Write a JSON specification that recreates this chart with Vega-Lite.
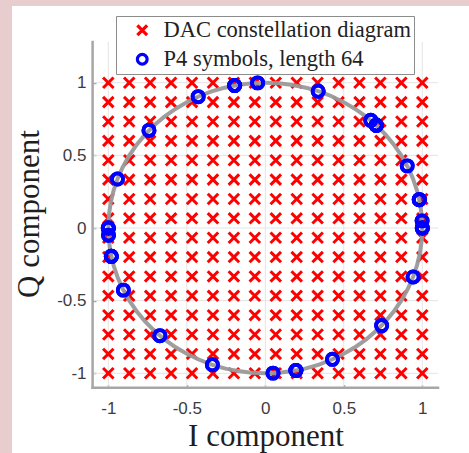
{
  "$schema": "https://vega.github.io/schema/vega-lite/v6.json",
  "width": 457,
  "height": 447,
  "autosize": {"type": "none"},
  "padding": {"left": 12, "top": 6, "right": 0, "bottom": 0},
  "background": "#e8cdcf",
  "config": {
    "view": {"fill": "white", "stroke": null}
  },
  "datasets": {
    "gl": [
      {"i": -1.1, "i2": 1.1, "q": -1, "q2": -1},
      {"i": -1.1, "i2": 1.1, "q": -0.5, "q2": -0.5},
      {"i": -1.1, "i2": 1.1, "q": 0, "q2": 0},
      {"i": -1.1, "i2": 1.1, "q": 0.5, "q2": 0.5},
      {"i": -1.1, "i2": 1.1, "q": 1, "q2": 1},
      {"i": -1, "i2": -1, "q": -1.1, "q2": 1.28},
      {"i": -0.5, "i2": -0.5, "q": -1.1, "q2": 1.28},
      {"i": 0, "i2": 0, "q": -1.1, "q2": 1.28},
      {"i": 0.5, "i2": 0.5, "q": -1.1, "q2": 1.28},
      {"i": 1, "i2": 1, "q": -1.1, "q2": 1.28}
    ],
    "ax": [
      {"i": -1.1, "i2": 1.1, "q": -1.1, "q2": -1.1},
      {"i": -1.1, "i2": -1.1, "q": -1.1, "q2": 1.28}
    ],
    "grid": [
      {"i":-1,"q":-1},{"i":-1,"q":-0.8667},{"i":-1,"q":-0.7333},{"i":-1,"q":-0.6},{"i":-1,"q":-0.4667},{"i":-1,"q":-0.3333},{"i":-1,"q":-0.2},{"i":-1,"q":-0.0667},{"i":-1,"q":0.0667},{"i":-1,"q":0.2},{"i":-1,"q":0.3333},{"i":-1,"q":0.4667},{"i":-1,"q":0.6},{"i":-1,"q":0.7333},{"i":-1,"q":0.8667},{"i":-1,"q":1},
      {"i":-0.8667,"q":-1},{"i":-0.8667,"q":-0.8667},{"i":-0.8667,"q":-0.7333},{"i":-0.8667,"q":-0.6},{"i":-0.8667,"q":-0.4667},{"i":-0.8667,"q":-0.3333},{"i":-0.8667,"q":-0.2},{"i":-0.8667,"q":-0.0667},{"i":-0.8667,"q":0.0667},{"i":-0.8667,"q":0.2},{"i":-0.8667,"q":0.3333},{"i":-0.8667,"q":0.4667},{"i":-0.8667,"q":0.6},{"i":-0.8667,"q":0.7333},{"i":-0.8667,"q":0.8667},{"i":-0.8667,"q":1},
      {"i":-0.7333,"q":-1},{"i":-0.7333,"q":-0.8667},{"i":-0.7333,"q":-0.7333},{"i":-0.7333,"q":-0.6},{"i":-0.7333,"q":-0.4667},{"i":-0.7333,"q":-0.3333},{"i":-0.7333,"q":-0.2},{"i":-0.7333,"q":-0.0667},{"i":-0.7333,"q":0.0667},{"i":-0.7333,"q":0.2},{"i":-0.7333,"q":0.3333},{"i":-0.7333,"q":0.4667},{"i":-0.7333,"q":0.6},{"i":-0.7333,"q":0.7333},{"i":-0.7333,"q":0.8667},{"i":-0.7333,"q":1},
      {"i":-0.6,"q":-1},{"i":-0.6,"q":-0.8667},{"i":-0.6,"q":-0.7333},{"i":-0.6,"q":-0.6},{"i":-0.6,"q":-0.4667},{"i":-0.6,"q":-0.3333},{"i":-0.6,"q":-0.2},{"i":-0.6,"q":-0.0667},{"i":-0.6,"q":0.0667},{"i":-0.6,"q":0.2},{"i":-0.6,"q":0.3333},{"i":-0.6,"q":0.4667},{"i":-0.6,"q":0.6},{"i":-0.6,"q":0.7333},{"i":-0.6,"q":0.8667},{"i":-0.6,"q":1},
      {"i":-0.4667,"q":-1},{"i":-0.4667,"q":-0.8667},{"i":-0.4667,"q":-0.7333},{"i":-0.4667,"q":-0.6},{"i":-0.4667,"q":-0.4667},{"i":-0.4667,"q":-0.3333},{"i":-0.4667,"q":-0.2},{"i":-0.4667,"q":-0.0667},{"i":-0.4667,"q":0.0667},{"i":-0.4667,"q":0.2},{"i":-0.4667,"q":0.3333},{"i":-0.4667,"q":0.4667},{"i":-0.4667,"q":0.6},{"i":-0.4667,"q":0.7333},{"i":-0.4667,"q":0.8667},{"i":-0.4667,"q":1},
      {"i":-0.3333,"q":-1},{"i":-0.3333,"q":-0.8667},{"i":-0.3333,"q":-0.7333},{"i":-0.3333,"q":-0.6},{"i":-0.3333,"q":-0.4667},{"i":-0.3333,"q":-0.3333},{"i":-0.3333,"q":-0.2},{"i":-0.3333,"q":-0.0667},{"i":-0.3333,"q":0.0667},{"i":-0.3333,"q":0.2},{"i":-0.3333,"q":0.3333},{"i":-0.3333,"q":0.4667},{"i":-0.3333,"q":0.6},{"i":-0.3333,"q":0.7333},{"i":-0.3333,"q":0.8667},{"i":-0.3333,"q":1},
      {"i":-0.2,"q":-1},{"i":-0.2,"q":-0.8667},{"i":-0.2,"q":-0.7333},{"i":-0.2,"q":-0.6},{"i":-0.2,"q":-0.4667},{"i":-0.2,"q":-0.3333},{"i":-0.2,"q":-0.2},{"i":-0.2,"q":-0.0667},{"i":-0.2,"q":0.0667},{"i":-0.2,"q":0.2},{"i":-0.2,"q":0.3333},{"i":-0.2,"q":0.4667},{"i":-0.2,"q":0.6},{"i":-0.2,"q":0.7333},{"i":-0.2,"q":0.8667},{"i":-0.2,"q":1},
      {"i":-0.0667,"q":-1},{"i":-0.0667,"q":-0.8667},{"i":-0.0667,"q":-0.7333},{"i":-0.0667,"q":-0.6},{"i":-0.0667,"q":-0.4667},{"i":-0.0667,"q":-0.3333},{"i":-0.0667,"q":-0.2},{"i":-0.0667,"q":-0.0667},{"i":-0.0667,"q":0.0667},{"i":-0.0667,"q":0.2},{"i":-0.0667,"q":0.3333},{"i":-0.0667,"q":0.4667},{"i":-0.0667,"q":0.6},{"i":-0.0667,"q":0.7333},{"i":-0.0667,"q":0.8667},{"i":-0.0667,"q":1},
      {"i":0.0667,"q":-1},{"i":0.0667,"q":-0.8667},{"i":0.0667,"q":-0.7333},{"i":0.0667,"q":-0.6},{"i":0.0667,"q":-0.4667},{"i":0.0667,"q":-0.3333},{"i":0.0667,"q":-0.2},{"i":0.0667,"q":-0.0667},{"i":0.0667,"q":0.0667},{"i":0.0667,"q":0.2},{"i":0.0667,"q":0.3333},{"i":0.0667,"q":0.4667},{"i":0.0667,"q":0.6},{"i":0.0667,"q":0.7333},{"i":0.0667,"q":0.8667},{"i":0.0667,"q":1},
      {"i":0.2,"q":-1},{"i":0.2,"q":-0.8667},{"i":0.2,"q":-0.7333},{"i":0.2,"q":-0.6},{"i":0.2,"q":-0.4667},{"i":0.2,"q":-0.3333},{"i":0.2,"q":-0.2},{"i":0.2,"q":-0.0667},{"i":0.2,"q":0.0667},{"i":0.2,"q":0.2},{"i":0.2,"q":0.3333},{"i":0.2,"q":0.4667},{"i":0.2,"q":0.6},{"i":0.2,"q":0.7333},{"i":0.2,"q":0.8667},{"i":0.2,"q":1},
      {"i":0.3333,"q":-1},{"i":0.3333,"q":-0.8667},{"i":0.3333,"q":-0.7333},{"i":0.3333,"q":-0.6},{"i":0.3333,"q":-0.4667},{"i":0.3333,"q":-0.3333},{"i":0.3333,"q":-0.2},{"i":0.3333,"q":-0.0667},{"i":0.3333,"q":0.0667},{"i":0.3333,"q":0.2},{"i":0.3333,"q":0.3333},{"i":0.3333,"q":0.4667},{"i":0.3333,"q":0.6},{"i":0.3333,"q":0.7333},{"i":0.3333,"q":0.8667},{"i":0.3333,"q":1},
      {"i":0.4667,"q":-1},{"i":0.4667,"q":-0.8667},{"i":0.4667,"q":-0.7333},{"i":0.4667,"q":-0.6},{"i":0.4667,"q":-0.4667},{"i":0.4667,"q":-0.3333},{"i":0.4667,"q":-0.2},{"i":0.4667,"q":-0.0667},{"i":0.4667,"q":0.0667},{"i":0.4667,"q":0.2},{"i":0.4667,"q":0.3333},{"i":0.4667,"q":0.4667},{"i":0.4667,"q":0.6},{"i":0.4667,"q":0.7333},{"i":0.4667,"q":0.8667},{"i":0.4667,"q":1},
      {"i":0.6,"q":-1},{"i":0.6,"q":-0.8667},{"i":0.6,"q":-0.7333},{"i":0.6,"q":-0.6},{"i":0.6,"q":-0.4667},{"i":0.6,"q":-0.3333},{"i":0.6,"q":-0.2},{"i":0.6,"q":-0.0667},{"i":0.6,"q":0.0667},{"i":0.6,"q":0.2},{"i":0.6,"q":0.3333},{"i":0.6,"q":0.4667},{"i":0.6,"q":0.6},{"i":0.6,"q":0.7333},{"i":0.6,"q":0.8667},{"i":0.6,"q":1},
      {"i":0.7333,"q":-1},{"i":0.7333,"q":-0.8667},{"i":0.7333,"q":-0.7333},{"i":0.7333,"q":-0.6},{"i":0.7333,"q":-0.4667},{"i":0.7333,"q":-0.3333},{"i":0.7333,"q":-0.2},{"i":0.7333,"q":-0.0667},{"i":0.7333,"q":0.0667},{"i":0.7333,"q":0.2},{"i":0.7333,"q":0.3333},{"i":0.7333,"q":0.4667},{"i":0.7333,"q":0.6},{"i":0.7333,"q":0.7333},{"i":0.7333,"q":0.8667},{"i":0.7333,"q":1},
      {"i":0.8667,"q":-1},{"i":0.8667,"q":-0.8667},{"i":0.8667,"q":-0.7333},{"i":0.8667,"q":-0.6},{"i":0.8667,"q":-0.4667},{"i":0.8667,"q":-0.3333},{"i":0.8667,"q":-0.2},{"i":0.8667,"q":-0.0667},{"i":0.8667,"q":0.0667},{"i":0.8667,"q":0.2},{"i":0.8667,"q":0.3333},{"i":0.8667,"q":0.4667},{"i":0.8667,"q":0.6},{"i":0.8667,"q":0.7333},{"i":0.8667,"q":0.8667},{"i":0.8667,"q":1},
      {"i":1,"q":-1},{"i":1,"q":-0.8667},{"i":1,"q":-0.7333},{"i":1,"q":-0.6},{"i":1,"q":-0.4667},{"i":1,"q":-0.3333},{"i":1,"q":-0.2},{"i":1,"q":-0.0667},{"i":1,"q":0.0667},{"i":1,"q":0.2},{"i":1,"q":0.3333},{"i":1,"q":0.4667},{"i":1,"q":0.6},{"i":1,"q":0.7333},{"i":1,"q":0.8667},{"i":1,"q":1}
    ],
    "circle": [
      {"a":0,"i":1,"q":0},{"a":10,"i":0.9848,"q":0.1736},{"a":20,"i":0.9397,"q":0.342},{"a":30,"i":0.866,"q":0.5},{"a":40,"i":0.766,"q":0.6428},{"a":50,"i":0.6428,"q":0.766},{"a":60,"i":0.5,"q":0.866},{"a":70,"i":0.342,"q":0.9397},{"a":80,"i":0.1736,"q":0.9848},{"a":90,"i":0,"q":1},
      {"a":100,"i":-0.1736,"q":0.9848},{"a":110,"i":-0.342,"q":0.9397},{"a":120,"i":-0.5,"q":0.866},{"a":130,"i":-0.6428,"q":0.766},{"a":140,"i":-0.766,"q":0.6428},{"a":150,"i":-0.866,"q":0.5},{"a":160,"i":-0.9397,"q":0.342},{"a":170,"i":-0.9848,"q":0.1736},{"a":180,"i":-1,"q":0},
      {"a":190,"i":-0.9848,"q":-0.1736},{"a":200,"i":-0.9397,"q":-0.342},{"a":210,"i":-0.866,"q":-0.5},{"a":220,"i":-0.766,"q":-0.6428},{"a":230,"i":-0.6428,"q":-0.766},{"a":240,"i":-0.5,"q":-0.866},{"a":250,"i":-0.342,"q":-0.9397},{"a":260,"i":-0.1736,"q":-0.9848},{"a":270,"i":0,"q":-1},
      {"a":280,"i":0.1736,"q":-0.9848},{"a":290,"i":0.342,"q":-0.9397},{"a":300,"i":0.5,"q":-0.866},{"a":310,"i":0.6428,"q":-0.766},{"a":320,"i":0.766,"q":-0.6428},{"a":330,"i":0.866,"q":-0.5},{"a":340,"i":0.9397,"q":-0.342},{"a":350,"i":0.9848,"q":-0.1736}
    ],
    "p4": [
      {"i":1,"q":0},{"i":-0.9988,"q":-0.0491},{"i":0.9808,"q":0.1951},{"i":-0.904,"q":-0.4276},{"i":0.7071,"q":0.7071},{"i":-0.3369,"q":-0.9415},{"i":-0.1951,"q":0.9808},{"i":0.741,"q":-0.6716},
      {"i":-1,"q":0},{"i":0.6716,"q":0.741},{"i":0.1951,"q":-0.9808},{"i":-0.9415,"q":0.3369},{"i":0.7071,"q":0.7071},{"i":0.4276,"q":-0.904},{"i":-0.9808,"q":-0.1951},{"i":-0.0491,"q":0.9988},
      {"i":1,"q":0},{"i":0.0491,"q":-0.9988},{"i":-0.9808,"q":-0.1951},{"i":-0.4276,"q":0.904},{"i":0.7071,"q":0.7071},{"i":0.9415,"q":-0.3369},{"i":0.1951,"q":-0.9808},{"i":-0.6716,"q":-0.741},
      {"i":-1,"q":0},{"i":-0.741,"q":0.6716},{"i":-0.1951,"q":0.9808},{"i":0.3369,"q":0.9415},{"i":0.7071,"q":0.7071},{"i":0.904,"q":0.4276},{"i":0.9808,"q":0.1951},{"i":0.9988,"q":0.0491},
      {"i":1,"q":0},{"i":0.9988,"q":0.0491},{"i":0.9808,"q":0.1951},{"i":0.904,"q":0.4276},{"i":0.7071,"q":0.7071},{"i":0.3369,"q":0.9415},{"i":-0.1951,"q":0.9808},{"i":-0.741,"q":0.6716},
      {"i":-1,"q":0},{"i":-0.6716,"q":-0.741},{"i":0.1951,"q":-0.9808},{"i":0.9415,"q":-0.3369},{"i":0.7071,"q":0.7071},{"i":-0.4276,"q":0.904},{"i":-0.9808,"q":-0.1951},{"i":0.0491,"q":-0.9988},
      {"i":1,"q":0},{"i":-0.0491,"q":0.9988},{"i":-0.9808,"q":-0.1951},{"i":0.4276,"q":-0.904},{"i":0.7071,"q":0.7071},{"i":-0.9415,"q":0.3369},{"i":0.1951,"q":-0.9808},{"i":0.6716,"q":0.741},
      {"i":-1,"q":0},{"i":0.741,"q":-0.6716},{"i":-0.1951,"q":0.9808},{"i":-0.3369,"q":-0.9415},{"i":0.7071,"q":0.7071},{"i":-0.904,"q":-0.4276},{"i":0.9808,"q":0.1951},{"i":-0.9988,"q":-0.0491}
    ]
  },
  "encoding": {
    "x": {
      "field": "i",
      "type": "quantitative",
      "scale": {"domain": [-1.6134, 1.2975], "nice": false, "zero": false},
      "axis": {
        "values": [-1, -0.5, 0, 0.5, 1],
        "offset": -64.5,
        "domain": false,
        "grid": false,
        "tickSize": -4,
        "tickColor": "#a0a0a0",
        "tickWidth": 1.5,
        "labelExpr": "datum.value == 0 ? '0' : (datum.value < 0 ? '-' + abs(datum.value) : '' + datum.value)",
        "labelFont": "Liberation Sans",
        "labelFontSize": 17,
        "labelColor": "#3c3c3c",
        "labelPadding": 16,
        "labelFlush": false,
        "title": "I component",
        "titleFont": "Liberation Serif",
        "titleFontSize": 31,
        "titleFontWeight": "normal",
        "titleColor": "#1e1e1e",
        "titleX": 253.5,
        "titleY": 56.5,
        "titleAlign": "center",
        "titleBaseline": "alphabetic"
      }
    },
    "y": {
      "field": "q",
      "type": "quantitative",
      "scale": {"domain": [-1.5485, 1.5279], "nice": false, "zero": false},
      "axis": {
        "values": [-1, -0.5, 0, 0.5, 1],
        "offset": -80,
        "domain": false,
        "grid": false,
        "tickSize": -4,
        "tickColor": "#a0a0a0",
        "tickWidth": 1.5,
        "labelExpr": "datum.value == 0 ? '0' : (datum.value < 0 ? '-' + abs(datum.value) : '' + datum.value)",
        "labelFont": "Liberation Sans",
        "labelFontSize": 17,
        "labelColor": "#3c3c3c",
        "labelPadding": 10,
        "labelFlush": false,
        "title": "Q component",
        "titleFont": "Liberation Serif",
        "titleFontSize": 31,
        "titleFontWeight": "normal",
        "titleColor": "#1e1e1e",
        "titleAngle": -90,
        "titleX": -63,
        "titleY": 207.5,
        "titleAlign": "center",
        "titleBaseline": "middle"
      }
    }
  },
  "layer": [
    {
      "data": {"name": "gl"},
      "mark": {"type": "rule", "color": "#e4e4e4", "strokeWidth": 1},
      "encoding": {"x2": {"field": "i2"}, "y2": {"field": "q2"}}
    },
    {
      "data": {"name": "grid"},
      "mark": {"type": "point", "shape": "M-1,-1L1,1M-1,1L1,-1", "filled": false, "size": 110, "strokeWidth": 3, "opacity": 1},
      "encoding": {
        "color": {"datum": "DAC constellation diagram", "type": "nominal",
          "scale": {"domain": ["DAC constellation diagram", "P4 symbols, length 64"], "range": ["#ff0000", "#0000ff"]},
          "legend": {
            "title": null,
            "orient": "none",
            "legendX": 104,
            "legendY": 10,
            "padding": 3,
            "symbolOffset": 12,
            "labelOffset": 10,
            "rowPadding": 5,
            "labelFont": "Liberation Serif",
            "labelFontSize": 22.5,
            "labelColor": "#222222",
            "labelLimit": 400,
            "strokeColor": "#8c8c8c",
            "fillColor": "white",
            "symbolStrokeWidth": 3.2,
            "symbolSize": 95
          }},
        "shape": {"datum": "DAC constellation diagram", "type": "nominal",
          "scale": {"domain": ["DAC constellation diagram", "P4 symbols, length 64"], "range": ["M-1,-1L1,1M-1,1L1,-1", "circle"]},
          "legend": {
            "title": null,
            "orient": "none",
            "legendX": 104,
            "legendY": 10,
            "padding": 3,
            "symbolOffset": 12,
            "labelOffset": 10,
            "rowPadding": 5,
            "labelFont": "Liberation Serif",
            "labelFontSize": 22.5,
            "labelColor": "#222222",
            "labelLimit": 400,
            "strokeColor": "#8c8c8c",
            "fillColor": "white",
            "symbolStrokeWidth": 3.2,
            "symbolSize": 95
          }}
      }
    },
    {
      "data": {"name": "circle"},
      "mark": {"type": "line", "interpolate": "cardinal-closed", "color": "#999999", "strokeWidth": 4, "opacity": 0.95},
      "encoding": {"order": {"field": "a", "type": "quantitative"}}
    },
    {
      "data": {"name": "p4"},
      "mark": {"type": "point", "filled": false, "size": 125, "strokeWidth": 3.8, "opacity": 1},
      "encoding": {
        "color": {"datum": "P4 symbols, length 64", "type": "nominal"},
        "shape": {"datum": "P4 symbols, length 64", "type": "nominal"}
      }
    },
    {
      "data": {"name": "ax"},
      "mark": {"type": "rule", "color": "#a6a6a6", "strokeWidth": 2.5, "strokeCap": "square"},
      "encoding": {"x2": {"field": "i2"}, "y2": {"field": "q2"}}
    }
  ]
}
